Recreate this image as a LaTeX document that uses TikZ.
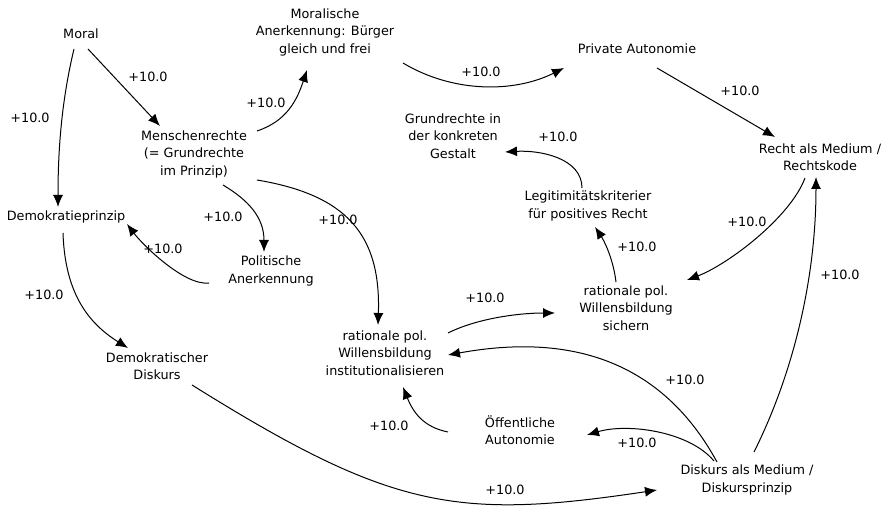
\documentclass[tikz,border=0pt]{standalone}
\usepackage{fontspec}
\setmainfont{DejaVu Sans}
\usetikzlibrary{arrows.meta,calc}
\begin{document}
\begin{tikzpicture}[x=1pt,y=-1pt,>={Latex[length=12pt,width=10pt]},
  concept/.style={align=center,font=\fontsize{12.8}{17.5}\selectfont},
  link/.style={->,line width=1pt},
  weight/.style={font=\fontsize{12.8}{15}\selectfont}]
\useasboundingbox (0,0) rectangle (892,510);
% concepts
\node[concept] (moral) at (81,34) {Moral};
\node[concept] (moranerk) at (325,32) {Moralische\\Anerkennung: Bürger\\gleich und frei};
\node[concept] (menschen) at (194,154) {Menschenrechte\\(= Grundrechte\\im Prinzip)};
\node[concept] (demo) at (66,217) {Demokratieprinzip};
\node[concept] (polit) at (271,271) {Politische\\Anerkennung};
\node[concept] (demdisk) at (157,366) {Demokratischer\\Diskurs};
\node[concept] (instit) at (385,353) {rationale pol.\\Willensbildung\\institutionalisieren};
\node[concept] (oeff) at (520,430) {Öffentliche\\Autonomie};
\node[concept] (diskmed) at (747,480) {Diskurs als Medium /\\Diskursprinzip};
\node[concept] (sichern) at (626,308) {rationale pol.\\Willensbildung\\sichern};
\node[concept] (legit) at (588,206) {Legitimitätskriterier\\für positives Recht};
\node[concept] (grund) at (453,136) {Grundrechte in\\der konkreten\\Gestalt};
\node[concept] (privat) at (637,49) {Private Autonomie};
\node[concept] (recht) at (820,157) {Recht als Medium /\\Rechtskode};
% links
\draw[link] ($(moral)+(-7,15)$) .. controls +(-12,50) and +(0,-60) .. ($(demo)+(-8,-10)$) node[weight] (w1) at (30,118) {+10.0};
\draw[link] ($(moral)+(7,15)$) -- ($(menschen)+(-34,-28)$) node[weight] (w2) at (148,77) {+10.0};
\draw[link] ($(menschen)+(63,-23)$) .. controls +(30,-10) and +(-10,30) .. ($(moranerk)+(-18,38)$) node[weight] (w3) at (266,103) {+10.0};
\draw[link] ($(menschen)+(29,31)$) .. controls +(25,15) and +(0,-35) .. ($(polit)+(-7,-19)$) node[weight] (w4) at (223,217) {+10.0};
\draw[link] ($(menschen)+(63,26)$) .. controls +(90,15) and +(3,-90) .. ($(instit)+(-7,-28)$) node[weight] (w5) at (338,220) {+10.0};
\draw[link] ($(polit)+(-62,12)$) .. controls +(-25,3) and +(15,20) .. ($(demo)+(61,7)$) node[weight] (w6) at (163,249) {+10.0};
\draw[link] ($(demo)+(-3,16)$) .. controls +(2,60) and +(-40,-25) .. ($(demdisk)+(-29,-18)$) node[weight] (w7) at (44,295) {+10.0};
\draw[link] ($(demdisk)+(35,19)$) .. controls +(200,125) and +(-200,30) .. ($(diskmed)+(-90,10)$) node[weight] (w8) at (505,490) {+10.0};
\draw[link] ($(moranerk)+(78,31)$) .. controls +(50,30) and +(-50,25) .. ($(privat)+(-73,19)$) node[weight] (w9) at (481,72) {+10.0};
\draw[link] ($(privat)+(20,19)$) -- ($(recht)+(-45,-20)$) node[weight] (w10) at (740,91) {+10.0};
\draw[link] ($(legit)+(-6,-18)$) .. controls +(0,-30) and +(35,-2) .. ($(grund)+(52,16)$) node[weight] (w11) at (558,137) {+10.0};
\draw[link] ($(sichern)+(-10,-26)$) .. controls +(-3,-25) and +(8,12) .. ($(legit)+(7,21)$) node[weight] (w12) at (637,247) {+10.0};
\draw[link] ($(recht)+(-15,21)$) .. controls +(-15,40) and +(40,-15) .. ($(sichern)+(61,-28)$) node[weight] (w13) at (747,222) {+10.0};
\draw[link] ($(diskmed)+(7,-28)$) .. controls +(40,-80) and +(0,100) .. ($(recht)+(-4,20)$) node[weight] (w14) at (840,275) {+10.0};
\draw[link] ($(instit)+(63,-20)$) .. controls +(30,-15) and +(-35,0) .. ($(sichern)+(-71,5)$) node[weight] (w15) at (485,298) {+10.0};
\draw[link] ($(diskmed)+(-30,-18)$) .. controls +(-60,-110) and +(110,-20) .. ($(instit)+(63,2)$) node[weight] (w16) at (685,380) {+10.0};
\draw[link] ($(diskmed)+(-33,-19)$) .. controls +(-25,-30) and +(40,-12) .. ($(oeff)+(67,5)$) node[weight] (w17) at (637,443) {+10.0};
\draw[link] ($(oeff)+(-72,2)$) .. controls +(-25,-5) and +(10,25) .. ($(instit)+(18,34)$) node[weight] (w18) at (389,426) {+10.0};
\end{tikzpicture}
\end{document}
